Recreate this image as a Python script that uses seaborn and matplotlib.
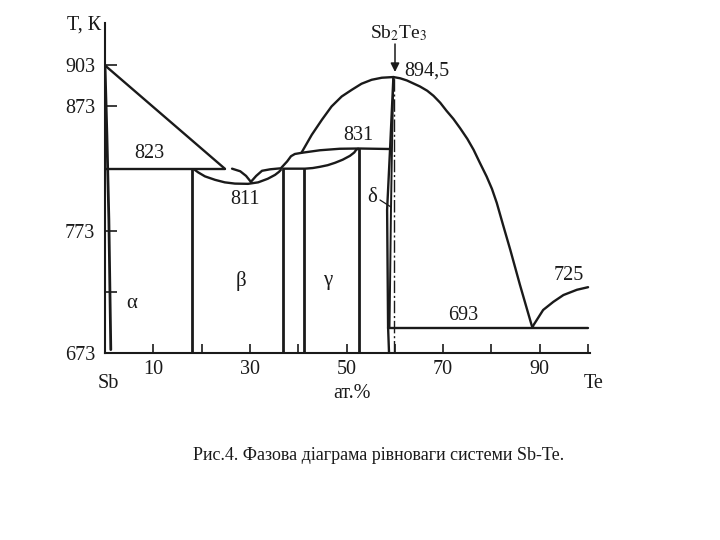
import numpy as np
import pandas as pd
import matplotlib
matplotlib.use("Agg")
import matplotlib.pyplot as plt
import seaborn as sns

# --- data: composition (at.% Te) and temperature (K) ---
liq_sb_x = [0, 24.8]
liq_sb_t = [903, 823]
liq_mid_l_x = [26.3, 28.0, 29.2, 30.2]
liq_mid_l_t = [823, 820.9, 817.2, 812.4]
liq_mid_r_x = [30.2, 31.3, 32.5, 34.2, 36.4, 37.7, 38.5, 39.3, 40.8, 44.5, 48.6, 52.6, 59.0]
liq_mid_r_t = [812.4, 817.2, 821.3, 822.5, 823.3, 828.8, 833.0, 834.8, 835.8, 837.8, 839, 839.2, 838.8]
beta_low_x = [18.6, 19.3, 20.7, 22.8, 24.8, 26.9, 29.6, 31.7, 33.7, 35.2, 36.0, 36.4]
beta_low_t = [822, 820, 816.8, 814, 812, 811, 810.8, 812, 814.9, 818, 820.4, 822]
gamma_low_x = [36.9, 41.4, 43.0, 44.5, 46.1, 47.6, 49.2, 50.7, 51.6, 52.0, 52.4]
gamma_low_t = [823, 823, 823.5, 824.5, 825.8, 827.7, 830.2, 833.3, 836, 838.2, 839]
dome_x = [40.7, 42.8, 44.9, 46.9, 49.0, 51.1, 53.1, 55.2, 57.3, 59.7, 61.1, 62.5, 65.2, 66.7, 68.0,
          69.4, 70.7, 72.1, 73.5, 75.0, 76.3, 77.6, 79.0, 80.1, 81.1, 82.4, 83.9, 85.9, 88.3, 88.5]
dome_t = [836, 850.2, 862.3, 873, 880.3, 885.2, 889.6, 892.5, 894, 894.5, 893.6, 892, 887.6, 884.5, 880.8,
          875.7, 869.5, 863.1, 855.6, 847, 838.2, 827.7, 816.7, 806.8, 795.5, 777.8, 757.5, 728.9, 696.2, 694]
te_x = [88.5, 88.7, 90.7, 92.8, 94.9, 97.7, 100]
te_t = [694, 696, 708.4, 715, 720.6, 724.9, 727]
delta_l_x = [59.7, 59.0, 58.4, 58.6, 58.8]
delta_l_t = [894.5, 838, 790, 694.5, 673]
delta_r_x = [59.7, 59.4, 59.2, 58.9]
delta_r_t = [894.5, 838, 790, 694]
alpha_x = [0, 0.4, 0.8, 1.2]
alpha_t = [903, 849, 782, 676]
eut_823_x = [0, 24.8]
eut_823_t = [823, 823]
eut_693_x = [58.6, 100]
eut_693_t = [694, 694]
stoich_x = [59.9, 59.9]
stoich_t = [673, 894.5]
wall_x = [18.1, 36.9, 41.2, 52.6]
wall_top = [823, 823, 823, 839]

x_ticks = [10, 20, 30, 40, 50, 60, 70, 80, 90, 100]
x_tick_labels = ["10", "", "30", "", "50", "", "70", "", "90", ""]
y_ticks = [673, 723, 773, 873, 903]
y_tick_labels = ["673", "", "773", "873", "903"]
caption = "Рис.4. Фазова діаграма рівноваги системи Sb-Te."

sns.set_style("white")
plt.rcParams["font.family"] = ["Liberation Serif", "DejaVu Serif"]
plt.rcParams["mathtext.fontset"] = "stix"

W, H = 720, 540
fig = plt.figure(figsize=(7.2, 5.4), dpi=100, facecolor="white")
ax = fig.add_axes([105 / W, 1 - 353.3 / H, 485 / W, 330.3 / H])

# the printed temperature axis is not uniform: 873-903 K is stretched
nodes_t = [600, 673, 773, 873, 903, 1000]
nodes_h = [-89.3, 0, 122.3, 246.6, 287.6, 420.2]
ax.set_yscale("function", functions=(lambda v: np.interp(v, nodes_t, nodes_h),
                                     lambda v: np.interp(v, nodes_h, nodes_t)))

INK = "#1a1a1a"
def curve(xs, ts, lw=1.7, **kw):
    df = pd.DataFrame({"x": xs, "t": ts})
    sns.lineplot(data=df, x="x", y="t", ax=ax, sort=False, estimator=None,
                 color=INK, lw=lw, legend=False, **kw)

curve(liq_sb_x, liq_sb_t)
curve(liq_mid_l_x, liq_mid_l_t)
curve(liq_mid_r_x, liq_mid_r_t)
curve(beta_low_x, beta_low_t)
curve(gamma_low_x, gamma_low_t)
curve(dome_x, dome_t)
curve(te_x, te_t)
curve(delta_l_x, delta_l_t)
curve(delta_r_x, delta_r_t, lw=1.4)
curve(alpha_x, alpha_t, lw=2.0)
curve(eut_823_x, eut_823_t)
curve(eut_693_x, eut_693_t)
curve(stoich_x, stoich_t, lw=1.0, linestyle=(0, (9, 2, 1.5, 2)))
for xv, tv in zip(wall_x, wall_top):
    curve([xv, xv], [673, tv], lw=2.0)

ax.set_xlim(0, 100.4)
ax.set_ylim(673, 934)
ax.set_xticks(x_ticks, x_tick_labels)
ax.set_yticks(y_ticks, y_tick_labels)
ax.tick_params(axis="both", direction="in", width=1.2, color=INK,
               labelsize=14.5, labelcolor=INK, bottom=True, left=True)
ax.tick_params(axis="x", length=6.5, pad=5)
ax.tick_params(axis="y", length=8.5, pad=7)
ax.set_xlabel("")
ax.set_ylabel("")
ax.patch.set_alpha(0)
for s in ("top", "right"):
    ax.spines[s].set_visible(False)
for s in ("left", "bottom"):
    ax.spines[s].set_linewidth(1.5)
    ax.spines[s].set_color(INK)

def label(px, py, s, size=14.5):
    fig.text(px / W, 1 - py / H, s, ha="center", va="center", fontsize=size, color=INK)

label(84, 25, "T, К")
label(108, 384, "Sb")
label(594, 384, "Te")
label(352, 393, "ат.%")
label(149, 154, "823")
label(245, 199, "811")
label(358, 135, "831")
label(463, 315, "693")
label(569, 276, "725")
label(427, 71, "894,5")
label(399, 33, "Sb$_2$Te$_3$", 14)
label(132, 303, "α", 15)
label(241, 281, "β", 15)
label(328, 281, "γ", 15)
label(372, 198, "δ", 15)
label(379, 456, caption, 13)

def px(xp, yp):
    return (xp / W, 1 - yp / H)

fig.add_artist(matplotlib.patches.FancyArrowPatch(px(395, 44), px(395, 72),
               transform=fig.transFigure, arrowstyle="-|>", mutation_scale=13,
               lw=1.1, color=INK, shrinkA=0, shrinkB=0))
fig.add_artist(matplotlib.lines.Line2D([380 / W, 391 / W], [1 - 200 / H, 1 - 207 / H],
               color=INK, lw=0.9))

fig.savefig("out.png", dpi=100, facecolor="white")
